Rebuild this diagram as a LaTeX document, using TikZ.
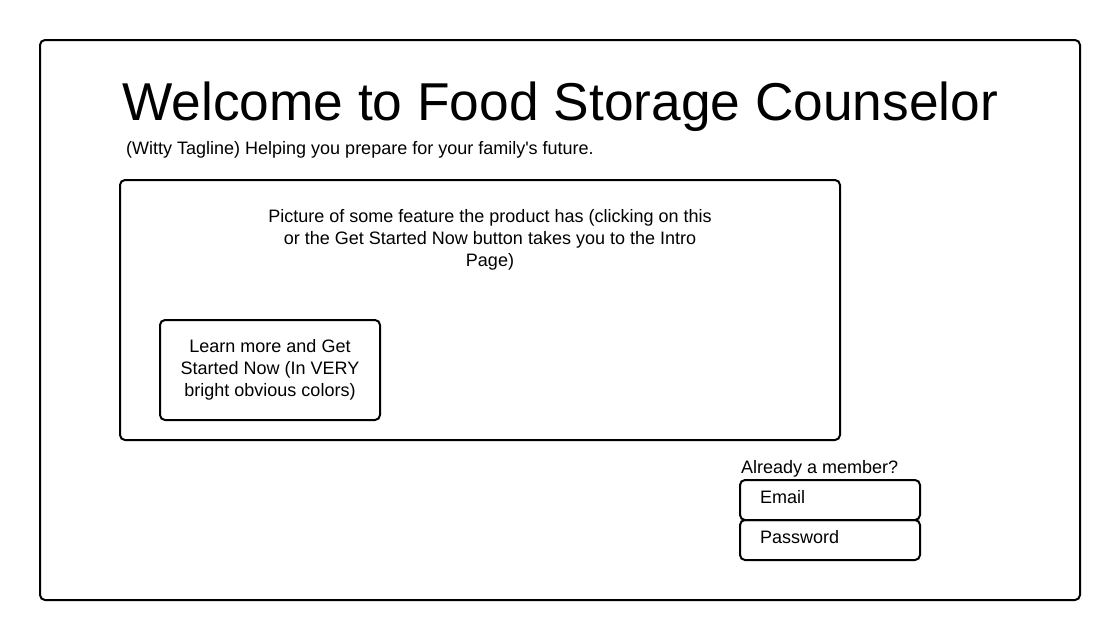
\documentclass[tikz,border=0pt]{standalone}
\usepackage{fontspec}
\setmainfont{Liberation Sans}[Ligatures=TeXOff]
\begin{document}
\begin{tikzpicture}[x=1pt,y=-1pt,
  box/.style={draw=black,line width=2pt,rounded corners=5pt},
  txt/.style={inner sep=0pt,font=\fontsize{18}{22}\selectfont},
]
\useasboundingbox[fill=white] (0,0) rectangle (1120,640);
\draw[box] (40,40) rectangle (1080,600);
\node[inner sep=0pt,anchor=base west,font=\fontsize{53.3}{60}\selectfont] (title) at (122,120.5) {Welcome to Food Storage Counselor};
\node[txt,anchor=base west] (tag) at (126,154) {(Witty Tagline) Helping you prepare for your family's future.};
\draw[box] (120,180) rectangle (840,440);
\node[txt,align=center,anchor=north] (pic) at (490,209) {Picture of some feature the product has (clicking on this\\or the Get Started Now button takes you to the Intro\\Page)};
\draw[box] (160,320) rectangle (380,420);
\node[txt,align=center,anchor=north] (btn) at (270,339) {Learn more and Get\\Started Now (In VERY\\bright obvious colors)};
\node[txt,anchor=base west] (member) at (741,473) {Already a member?};
\draw[box] (740,480) rectangle (920,520);
\node[txt,anchor=base west] (email) at (760,503) {Email};
\draw[box] (740,520) rectangle (920,560);
\node[txt,anchor=base west] (pw) at (760,543) {Password};
\end{tikzpicture}
\end{document}
